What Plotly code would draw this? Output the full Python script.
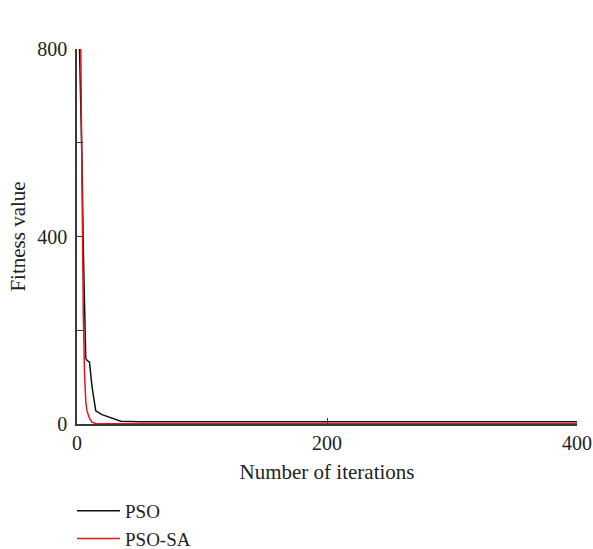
import plotly.graph_objects as go

pso_x = [2, 3, 4, 5, 6, 7, 8, 10, 12, 15, 20, 26, 30, 35, 50, 100, 200, 300, 400]
pso_y = [800, 700, 560, 380, 230, 140, 136, 132, 80, 28, 20, 15, 10, 6, 5, 5, 5, 5, 5]
psosa_x = [3, 4, 5, 6, 7, 8, 10, 12, 15, 20, 50, 100, 200, 300, 400]
psosa_y = [800, 480, 240, 110, 48, 28, 12, 4, 1, 0.5, 0.3, 0.3, 0.3, 0.3, 0.3]

FONT = "Liberation Serif"
AX = "#3a3a3a"

fig = go.Figure()
fig.add_trace(go.Scatter(x=pso_x, y=pso_y, mode="lines", name="PSO",
                         line=dict(color="#111111", width=1.5)))
fig.add_trace(go.Scatter(x=psosa_x, y=psosa_y, mode="lines", name="PSO-SA",
                         line=dict(color="#e8141e", width=1.5)))

fig.update_layout(
    width=593, height=549,
    margin=dict(l=77, r=16, t=49, b=125, autoexpand=False),
    paper_bgcolor="white", plot_bgcolor="white",
    font=dict(family=FONT, size=20, color="#222222"),
    showlegend=True,
    legend=dict(x=-0.01, y=-0.181, xanchor="left", yanchor="top",
                orientation="v", font=dict(family=FONT, size=19),
                bgcolor="rgba(0,0,0,0)", tracegroupgap=0, itemwidth=43),
    xaxis=dict(range=[0, 400], tickvals=[0, 200, 400], ticks="inside",
               ticklen=6, tickcolor=AX, tickwidth=1.2,
               showline=True, linecolor=AX, linewidth=1.5,
               showgrid=False, zeroline=False,
               tickfont=dict(family=FONT, size=20),
               title=dict(text="Number of iterations", standoff=12,
                          font=dict(family=FONT, size=21))),
    yaxis=dict(range=[0, 800], tickvals=[0, 200, 400, 600, 800],
               ticktext=["0", "", "400", "", "800"], ticks="inside",
               ticklen=6, tickcolor=AX, tickwidth=1.2,
               showline=True, linecolor=AX, linewidth=1.5,
               showgrid=False, zeroline=False, ticklabelstandoff=4,
               tickfont=dict(family=FONT, size=20),
               title=dict(text="Fitness value", standoff=6,
                          font=dict(family=FONT, size=21))),
)

fig.write_html("out.html")
